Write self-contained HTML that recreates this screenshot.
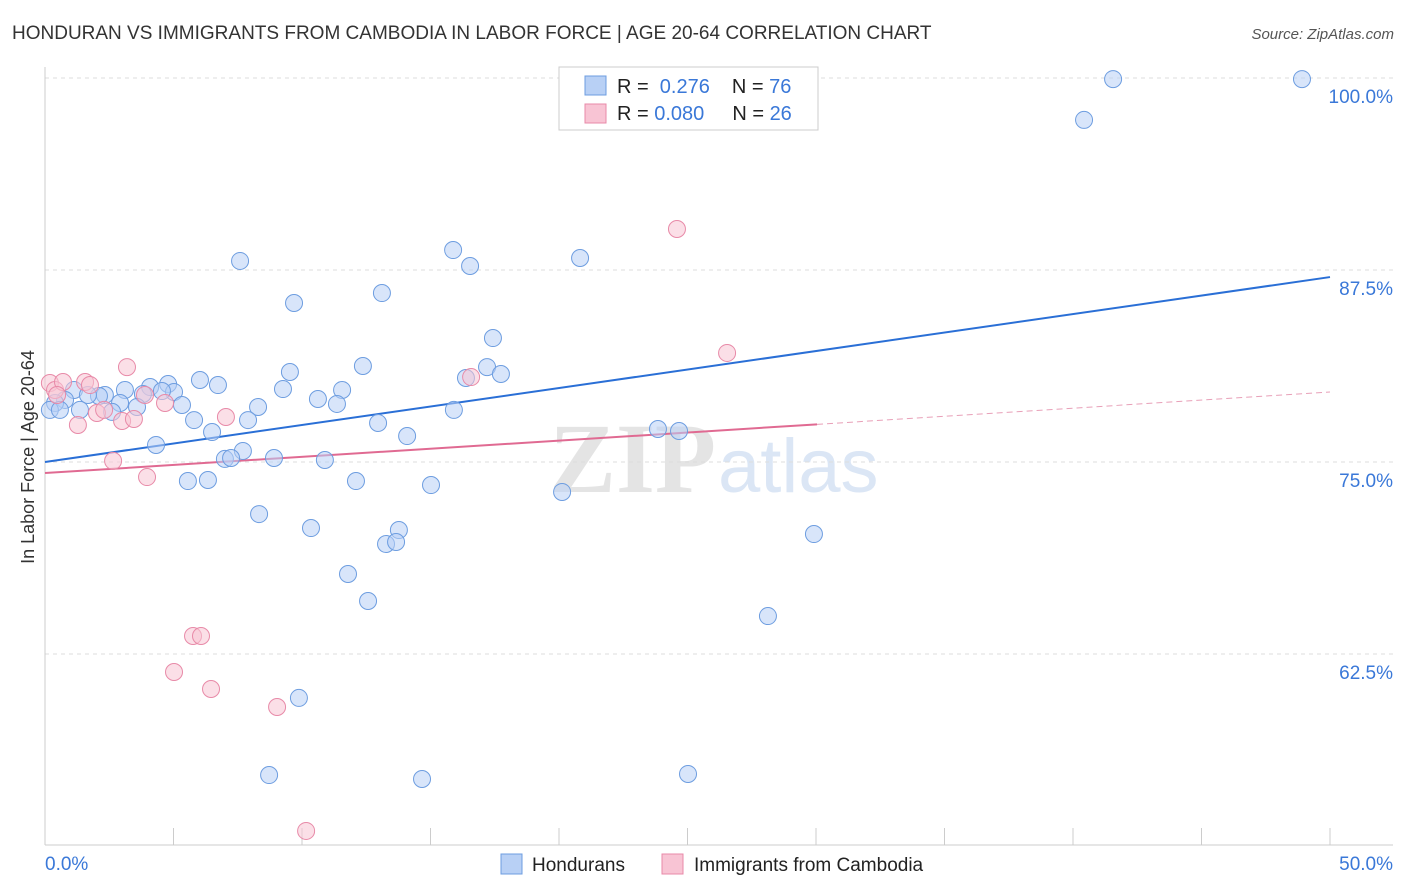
<!DOCTYPE html>
<html><head><meta charset="utf-8"><style>
body{margin:0;background:#fff;font-family:"Liberation Sans",sans-serif;}
svg{display:block}
</style></head><body>
<svg id="chart" width="1406" height="892">
<text x="12" y="39" font-size="19" fill="#333">HONDURAN VS IMMIGRANTS FROM CAMBODIA IN LABOR FORCE | AGE 20-64 CORRELATION CHART</text>
<text x="1394" y="39" font-size="15" fill="#555" font-style="italic" text-anchor="end">Source: ZipAtlas.com</text>
<text x="716" y="492" font-size="100" fill="#e4e4e4" text-anchor="end" font-family="Liberation Serif" font-weight="bold">ZIP</text>
<text x="718" y="492" font-size="76" fill="#dbe6f5">atlas</text>
<g id="grid"></g><g id="axes"></g><g id="lines"></g><g id="pts"></g>
<g>
<rect x="559" y="67" width="259" height="63" fill="#fff" stroke="#ccc"/>
<rect x="585" y="76" width="21" height="19" fill="#b8d0f5" stroke="#6d9de0"/>
<rect x="585" y="104" width="21" height="19" fill="#f8c4d4" stroke="#e88aa8"/>
<text x="617" y="93" font-size="20" fill="#222">R = <tspan fill="#3a78d8">&#160;0.276</tspan><tspan dx="22" fill="#222">N = </tspan><tspan fill="#3a78d8">76</tspan></text>
<text x="617" y="120" font-size="20" fill="#222">R = <tspan fill="#3a78d8">0.080</tspan><tspan dx="28" fill="#222">N = </tspan><tspan fill="#3a78d8">26</tspan></text>
</g>
<text transform="translate(34,457) rotate(-90)" font-size="18" fill="#333" text-anchor="middle">In Labor Force | Age 20-64</text>
<text x="45" y="870" font-size="19" fill="#3a78d8">0.0%</text>
<text x="1393" y="870" font-size="19" fill="#3a78d8" text-anchor="end">50.0%</text>
<g><rect x="501" y="854" width="21" height="20" fill="#b8d0f5" stroke="#6d9de0"/><text x="532" y="871" font-size="19" fill="#222">Hondurans</text></g>
<g><rect x="662" y="854" width="21" height="20" fill="#f8c4d4" stroke="#e88aa8"/><text x="694" y="871" font-size="19" fill="#222">Immigrants from Cambodia</text></g>
</svg>
<script>
const yTicks=[100,87.5,75,62.5];
const yTickLabels=["100.0%","87.5%","75.0%","62.5%"];
const blueX=[41.56,48.91,40.43,7.59,15.88,16.54,20.82,9.69,13.11,17.43,12.37,9.53,17.20,17.74,16.38,6.03,6.73,9.26,4.79,4.09,3.11,1.13,2.33,3.81,5.02,4.55,11.56,10.62,11.36,5.33,8.29,15.91,2.92,3.58,2.10,1.67,0.78,0.39,0.19,0.58,1.36,2.61,5.80,7.90,12.96,6.50,14.09,23.85,24.67,4.32,7.70,7.00,7.24,8.91,10.89,5.56,6.34,12.10,15.02,20.12,8.33,10.35,13.77,13.27,13.66,29.92,11.79,12.57,28.13,9.88,8.72,14.67,25.02];
const blueY=[99.93,99.93,97.27,88.09,88.80,87.76,88.28,85.35,86.00,83.07,81.25,80.86,81.18,80.73,80.47,80.34,80.01,79.75,80.08,79.88,79.69,79.69,79.36,79.43,79.56,79.62,79.69,79.10,78.78,78.71,78.58,78.39,78.84,78.58,79.30,79.36,79.04,78.84,78.39,78.39,78.39,78.26,77.73,77.73,77.54,76.95,76.69,77.15,77.02,76.11,75.72,75.20,75.26,75.26,75.13,73.76,73.83,73.76,73.50,73.05,71.61,70.70,70.57,69.66,69.79,70.31,67.71,65.95,64.97,59.64,54.62,54.36,54.69];
const pinkX=[0.19,0.39,0.70,0.47,1.56,1.75,1.28,2.02,2.30,3.00,3.46,3.19,4.67,3.89,2.65,3.97,7.04,24.59,26.54,16.58,5.76,6.07,5.02,6.46,9.03,10.16];
const pinkY=[80.14,79.69,80.21,79.36,80.21,80.01,77.41,78.19,78.39,77.67,77.80,81.18,78.84,79.36,75.07,74.02,77.93,90.17,82.10,80.53,63.67,63.67,61.33,60.22,59.05,50.98];
const blueTrend=[75.0,87.04];
const pinkTrend=[74.28,79.56];
const pinkSolidEnd=30.04;
const xTicks=[0,5,10,15,20,25,30,35,40,45,50];
const X=v=>45+v*25.7, Y=v=>78+(100-v)*15.36;
const NS="http://www.w3.org/2000/svg";
function mk(parent,tag,attrs){const e=document.createElementNS(NS,tag);for(const k in attrs)e.setAttribute(k,attrs[k]);document.getElementById(parent).appendChild(e);return e;}
yTicks.forEach((t,i)=>{
 const g=mk('grid','line',{x1:45,x2:1393,y1:Y(t),y2:Y(t),stroke:'#ddd','stroke-dasharray':'4,4'});
 
 
 const l=mk('grid','text',{x:1393,y:Y(t)+25,'font-size':19,fill:'#3a78d8','text-anchor':'end'});
 l.textContent=yTickLabels[i];
 
 
});
const ya=mk('axes','line',{x1:45,x2:45,y1:67,y2:845,stroke:'#ccc'});


const xa=mk('axes','line',{x1:45,x2:1393,y1:845,y2:845,stroke:'#ccc'});


xTicks.forEach(t=>{const e=mk('axes','line',{x1:X(t),x2:X(t),y1:828,y2:845,stroke:'#ccc'});
 
 });
function dot(x,y,fill,stroke,name){const c=mk('pts','circle',{cx:X(x),cy:Y(y),r:8.5,fill:fill,'fill-opacity':0.55,stroke:stroke,'stroke-width':1});
 
 }
blueX.forEach((x,i)=>dot(x,blueY[i],'#b8d0f5','#6d9de0','honduran-point'));
pinkX.forEach((x,i)=>dot(x,pinkY[i],'#f8c4d4','#e88aa8','cambodia-point'));
const tr=(t,x)=>t[0]+(t[1]-t[0])*x/50;
const bl=mk('lines','line',{x1:X(0),y1:Y(tr(blueTrend,0)),x2:X(50),y2:Y(tr(blueTrend,50)),stroke:'#2a6fd6','stroke-width':2});


const pl=mk('lines','line',{x1:X(0),y1:Y(tr(pinkTrend,0)),x2:X(pinkSolidEnd),y2:Y(tr(pinkTrend,pinkSolidEnd)),stroke:'#e06a92','stroke-width':2});


const pd=mk('lines','line',{x1:X(pinkSolidEnd),y1:Y(tr(pinkTrend,pinkSolidEnd)),x2:X(50),y2:Y(tr(pinkTrend,50)),stroke:'#e8a0b8','stroke-width':1,'stroke-dasharray':'6,4'});


</script>
</body></html>
